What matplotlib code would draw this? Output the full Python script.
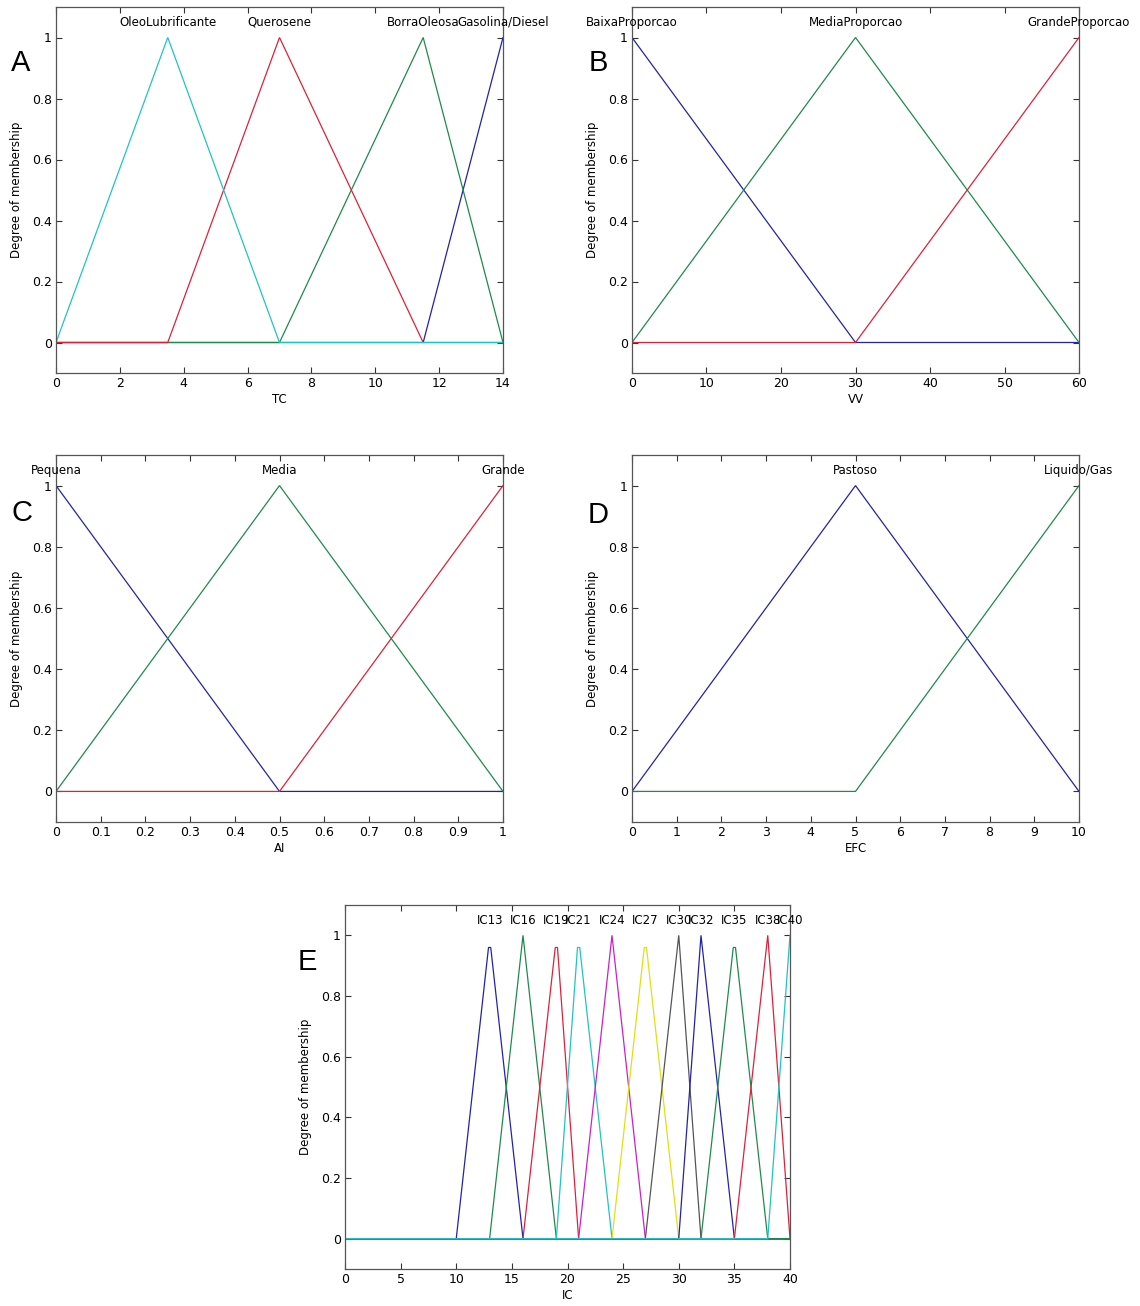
import numpy as np
import matplotlib
matplotlib.use('Agg')
from matplotlib import pyplot as plt

plt.rcParams['font.family'] = ['DejaVu Sans']
plt.rcParams['font.size'] = 8.5

# MATLAB-ish colour order used by plotmf
mf_colors = ['#2323a8', '#1f8a4c', '#e0203a', '#1fc4c4', '#cc1fcc', '#e0e010', '#555555']

# A - TC
a_names = ['Gasolina/Diesel', 'BorraOleosa', 'Querosene', 'OleoLubrificante']
a_params = [[11.5, 14, 14], [7, 11.5, 14], [3.5, 7, 11.5], [0, 3.5, 7]]
a_ticks = [0, 2, 4, 6, 8, 10, 12, 14]

# B - VV
b_names = ['BaixaProporcao', 'MediaProporcao', 'GrandeProporcao']
b_params = [[0, 0, 30], [0, 30, 60], [30, 60, 60]]
b_ticks = [0, 10, 20, 30, 40, 50, 60]

# C - AI
c_names = ['Pequena', 'Media', 'Grande']
c_params = [[0, 0, 0.5], [0, 0.5, 1], [0.5, 1, 1]]
c_ticks = [0, 0.1, 0.2, 0.3, 0.4, 0.5, 0.6, 0.7, 0.8, 0.9, 1]

# D - EFC
d_names = ['Pastoso', 'Liquido/Gas']
d_params = [[0, 5, 10], [5, 10, 10]]
d_ticks = [0, 1, 2, 3, 4, 5, 6, 7, 8, 9, 10]

# E - IC  (a, top-left, top-right, c, peak height)
e_names = ['IC13', 'IC16', 'IC19', 'IC21', 'IC24', 'IC27', 'IC30', 'IC32', 'IC35', 'IC38', 'IC40']
e_params = [[10, 12.9, 13.1, 16, 0.96], [13, 16, 16, 19, 1.0], [16, 18.9, 19.1, 21, 0.96],
            [19, 20.9, 21.1, 24, 0.96], [21, 24, 24, 27, 1.0], [24, 26.9, 27.1, 30, 0.96],
            [27, 30, 30, 32, 1.0], [30, 32, 32, 35, 1.0], [32, 34.9, 35.1, 38, 0.96],
            [35, 38, 38, 40, 1.0], [38, 40, 40, 40, 1.0]]
e_ticks = [0, 5, 10, 15, 20, 25, 30, 35, 40]

y_ticks = [0, 0.2, 0.4, 0.6, 0.8, 1]

W, H = 1140, 1306


def px_axes(fig, l, t, r, b):
    return fig.add_axes([l / W, 1 - b / H, (r - l) / W, (b - t) / H])


def mf_points(p, xmin, xmax):
    a, b1, b2, c, h = p
    xs, ys = [xmin], [0]
    if a > xmin:
        xs.append(a); ys.append(0)
    xs += [b1, b2]; ys += [h, h]
    if c > b2:
        xs.append(c); ys.append(0)
    if xmax > c:
        xs.append(xmax); ys.append(0)
    if b1 == xmin:
        xs, ys = xs[1:], ys[1:]
    return xs, ys


def draw_panel(ax, names, params, ticks, xlabel, peak_x):
    xmin, xmax = ticks[0], ticks[-1]
    for i, p in enumerate(params):
        xs, ys = mf_points(p, xmin, xmax)
        ax.plot(xs, ys, color=mf_colors[i % len(mf_colors)], lw=0.9, solid_joinstyle='miter')
        ax.text(peak_x[i], 1.05, names[i], ha='center', va='center', fontsize=8.5)
    ax.set_xlim(xmin, xmax)
    ax.set_ylim(-0.1, 1.1)
    ax.set_xticks(ticks)
    ax.set_xticklabels(['%g' % t for t in ticks])
    ax.set_yticks(y_ticks)
    ax.set_yticklabels(['%g' % t for t in y_ticks])
    ax.tick_params(direction='in', top=True, right=True, length=4, width=0.8,
                   labelsize=9, pad=3, colors='#333333')
    ax.tick_params(labelcolor='black')
    for s in ax.spines.values():
        s.set_color('#555555')
        s.set_linewidth(0.9)
    ax.set_xlabel(xlabel, labelpad=2)
    ax.set_ylabel('Degree of membership', labelpad=6)


def tri(params):
    return [[a, b, b, c, 1.0] for a, b, c in params]


fig = plt.figure(figsize=(W / 100, H / 100), dpi=100)

ax_a = px_axes(fig, 56, 7, 503, 373)
draw_panel(ax_a, a_names, tri(a_params), a_ticks, 'TC', [p[1] for p in a_params])
ax_b = px_axes(fig, 632, 7, 1079, 373)
draw_panel(ax_b, b_names, tri(b_params), b_ticks, 'VV', [p[1] for p in b_params])
ax_c = px_axes(fig, 56, 455, 503, 822)
draw_panel(ax_c, c_names, tri(c_params), c_ticks, 'AI', [p[1] for p in c_params])
ax_d = px_axes(fig, 632, 455, 1079, 822)
draw_panel(ax_d, d_names, tri(d_params), d_ticks, 'EFC', [p[1] for p in d_params])
ax_e = px_axes(fig, 345, 905, 790, 1269)
draw_panel(ax_e, e_names, e_params, e_ticks, 'IC', [(p[1] + p[2]) / 2 for p in e_params])

for letter, (x, y) in zip('ABCDE', [(21, 63), (598, 63), (22, 513), (598, 515), (307, 962)]):
    fig.text(x / W, 1 - y / H, letter, fontsize=21, ha='center', va='center',
             family=['Liberation Sans', 'DejaVu Sans'])

fig.savefig('out.png', dpi=100)
